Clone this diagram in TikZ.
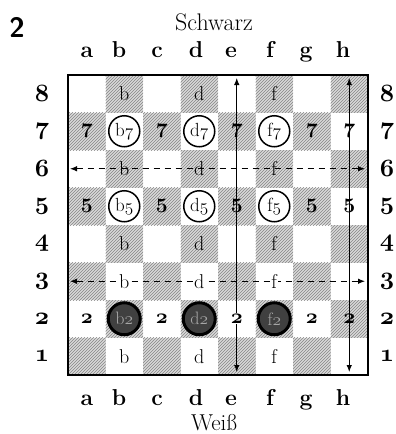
\documentclass[tikz,border=0pt]{standalone}
\usetikzlibrary{patterns,arrows.meta}
\newcommand\osb[1]{{\usefont{OML}{cmm}{b}{it}#1}}
\newcommand\osm[1]{{\usefont{OML}{cmm}{m}{it}#1}}
\begin{document}
\begin{tikzpicture}[x=1pt,y=-1pt,
  sq/.style={minimum size=37.5pt, inner sep=0pt, draw=none},
  dk/.style={fill=gray!30, postaction={pattern=north east lines, pattern color=gray!95}},
  lab/.style={font=\fontsize{20}{20}\selectfont, inner sep=1pt},
  coord/.style={font=\fontsize{23}{23}\selectfont\bfseries},
  rank/.style={font=\fontsize{24}{24}\selectfont},
  ring/.style={circle, draw, line width=1.5pt, fill=white, minimum size=31pt, inner sep=0pt, font=\fontsize{19}{19}\selectfont},
  dring/.style={circle, draw, line width=3pt, fill=black!75, minimum size=32pt, inner sep=0pt, text=black!35, font=\fontsize{18}{18}\selectfont},
  mv/.style={line width=1pt, {Latex[length=7pt,width=5.5pt]}-{Latex[length=7pt,width=5.5pt]}},
  mvd/.style={mv, dash pattern=on 6pt off 5pt}]
\useasboundingbox (0,0) rectangle (396,434);
% squares
\foreach \c [count=\i] in {a,b,c,d,e,f,g,h} {
  \foreach \r in {1,...,8} {
    \pgfmathsetmacro\cx{68+37.5*(\i-0.5)}
    \pgfmathsetmacro\cy{75+37.5*(8.5-\r)}
    \pgfmathtruncatemacro\parity{mod(\i+\r,2)}
    \ifnum\parity=0
      \node[sq,dk] (\c\r) at (\cx,\cy) {};
    \else
      \node[sq] (\c\r) at (\cx,\cy) {};
    \fi
  }
}
\draw[line width=1.3pt] (68,75) rectangle (368,375);
% titles
\node[font=\fontsize{28}{28}\selectfont\sffamily\bfseries] (num) at (17,27) {2};
\node[font=\fontsize{24}{24}\selectfont] (schwarz) at (214,22) {Schwarz};
\node[font=\fontsize{23}{23}\selectfont, anchor=base, inner sep=0pt] (weiss) at (214,430) {Weiß};
% file labels
\foreach \c/\x in {a/87,b/119,c/157,d/196,e/231,f/270,g/306,h/343} {
  \node[coord,anchor=base] (top-\c) at (\x,57) {\c};
  \node[coord,anchor=base] (bot-\c) at (\x,405) {\c};
}
% rank labels
\foreach \r in {1,...,8} {
  \pgfmathsetmacro\cy{75+37.5*(8.5-\r)}
  \node[rank] (left-\r) at (42,\cy) {\osb{\r}};
  \node[rank] (right-\r) at (387,\cy) {\osb{\r}};
}
% movement lines
\coordinate (r6w) at (70,168.75);
\coordinate (r6e) at (365,168.75);
\coordinate (r3w) at (70,281.25);
\coordinate (r3e) at (365,281.25);
\coordinate (en) at (236.75,78);
\coordinate (es) at (236.75,372);
\coordinate (hn) at (349.25,78);
\coordinate (hs) at (349.25,372);
\draw[mvd] (r6w) -- (r6e);
\draw[mvd] (r3w) -- (r3e);
\draw[mv] (en) -- (es);
\draw[mv] (hn) -- (hs);
% letters on b, d, f files
\foreach \r in {8,6,4,1} {
  \node[lab] (t-b\r) at (b\r) {b};
  \node[lab] (t-d\r) at (d\r) {d};
  \node[lab] (t-f\r) at (f\r) {f};
}
\node[lab,fill=white] (t-b3) at (b3) {b};
\node[lab,fill=white] (t-d3) at (d3) {d};
\node[lab,fill=white] (t-f3) at (f3) {f};
% numbers on a, c, e, g, h files
\foreach \r in {7,5,2} {
  \foreach \c in {a,c,g,h} {
    \node[lab] (t-\c\r) at (\c\r) {\osb{\r}};
  }
}
\node[lab] (t-e7) at (e7) {\osb{7}};
\node[lab] (t-e5) at (e5) {\osb{5}};
\node[lab,fill=white] (t-e2) at (e2) {\osb{2}};
% circled squares
\foreach \c in {b,d,f} {
  \node[ring] (c-\c7) at (\c7) {\c\osm{7}};
  \node[ring] (c-\c5) at (\c5) {\c\osm{5}};
  \node[dring] (c-\c2) at (\c2) {\c\osm{2}};
}
\end{tikzpicture}
\end{document}
